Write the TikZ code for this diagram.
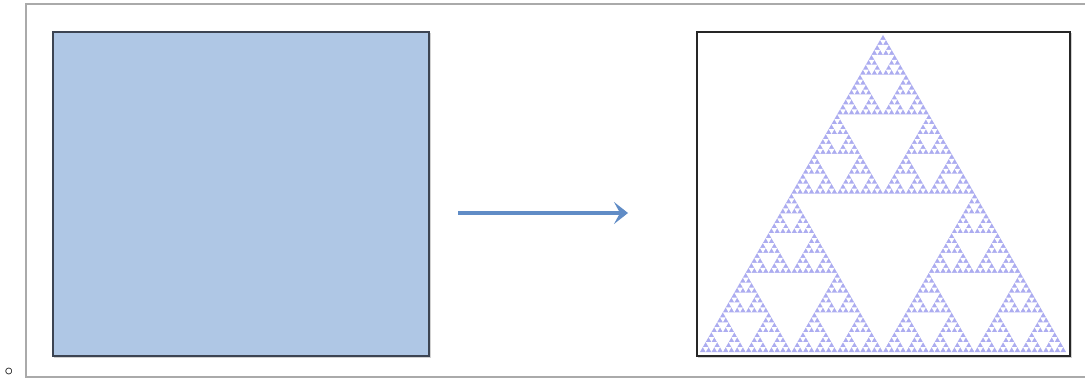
\documentclass[tikz,border=0pt]{standalone}
\usetikzlibrary{arrows.meta}
\definecolor{boxblue}{RGB}{175,199,229}
\definecolor{boxedge}{RGB}{60,68,82}
\definecolor{arrowblue}{RGB}{96,140,198}
\definecolor{lilac}{RGB}{172,172,240}
\definecolor{framegray}{RGB}{170,170,170}
\tikzset{
  panel/.style={draw, line width=0.8pt, anchor=north west, inner sep=0pt},
  shadowbox/.style={fill=black, opacity=0.18},
  flow/.style={draw=arrowblue, line width=1.9pt, -{Stealth[length=7pt,width=11pt,inset=3pt]}},
}
\def\sierp#1#2#3#4{%
  \ifnum#4>0
  \begingroup
  \pgfmathsetmacro\hs{#3/2}%
  \pgfmathsetmacro\hh{#3*0.8660254}%
  \pgfmathsetmacro\xa{#1+#3/4}%
  \pgfmathsetmacro\xb{#1+#3/2}%
  \pgfmathsetmacro\xc{#1+3*#3/4}%
  \pgfmathsetmacro\yh{#2-\hh/2}%
  \fill[white] (\xb,#2) -- (\xa,\yh) -- (\xc,\yh) -- cycle;
  \pgfmathtruncatemacro\nn{#4-1}%
  \edef\next{\noexpand\sierp{#1}{#2}{\hs}{\nn}\noexpand\sierp{\xb}{#2}{\hs}{\nn}\noexpand\sierp{\xa}{\yh}{\hs}{\nn}}%
  \next
  \endgroup
  \fi}
\begin{document}
\begin{tikzpicture}[x=0.5pt,y=-0.5pt]
\useasboundingbox (0,0) rectangle (1085,379);
% outer frame
\draw[framegray, line width=0.6pt] (1085,4) -- (26,4) -- (26,377) -- (1085,377);
% bullet
\node[font=\footnotesize, inner sep=0pt] (bul) at (9,372) {$\circ$};
% shadows
\fill[shadowbox] (54,33) rectangle (431,358);
\fill[shadowbox] (698,33) rectangle (1072,358);
% left panel
\node[panel, draw=boxedge, fill=boxblue, minimum width=376*0.5pt, minimum height=324*0.5pt] (src) at (52,31) {};
% right panel
\node[panel, draw=black!85, fill=white, minimum width=373*0.5pt, minimum height=324*0.5pt] (dst) at (696,31) {};
% sierpinski
\fill[lilac] (700,352) -- (1066,352) -- (883,35) -- cycle;
\sierp{700}{352}{366}{6}
% arrow
\coordinate (a1) at (458,213);
\coordinate (a2) at (628,213);
\draw[flow] (a1) -- (a2);
\end{tikzpicture}
\end{document}
